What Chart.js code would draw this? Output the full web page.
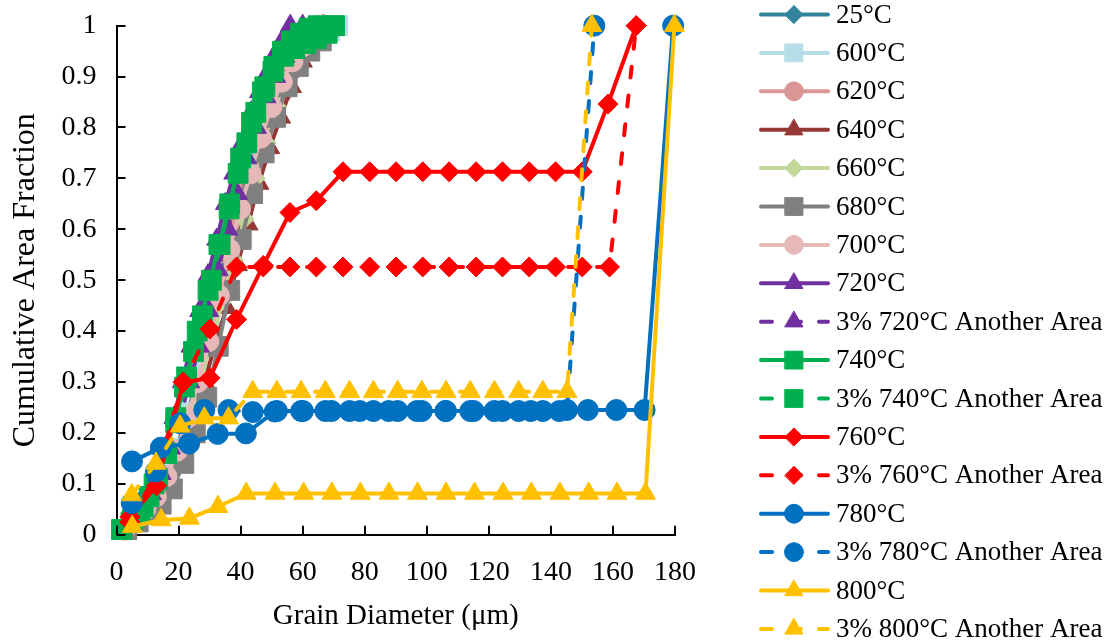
<!DOCTYPE html>
<html><head><meta charset="utf-8">
<script src="https://cdn.jsdelivr.net/npm/chart.js@4.4.0/dist/chart.umd.min.js"></script>
<style>html,body{margin:0;padding:0;background:#fff}</style>
</head><body>
<canvas id="c" width="1112" height="643"></canvas>
<script>
// ---------- DATA ----------
const seriesNames = ['25°C','600°C','620°C','640°C','660°C','680°C','700°C','720°C','3% 720°C Another Area','740°C','3% 740°C Another Area','760°C','3% 760°C Another Area','780°C','3% 780°C Another Area','800°C','3% 800°C Another Area'];
const xTickLabels = ['0','20','40','60','80','100','120','140','160','180'];
const yTickLabels = ['0','0.1','0.2','0.3','0.4','0.5','0.6','0.7','0.8','0.9','1'];

const x25  = [2.4, 5.6, 8.9, 12.2, 15.5, 18.8, 22.0, 25.3, 28.6, 31.9, 35.2, 38.4, 41.7, 45.0, 48.3, 51.6, 54.9, 58.1, 61.4, 64.1];
const y25  = [0.01, 0.03, 0.045, 0.075, 0.12, 0.16, 0.22, 0.29, 0.38, 0.46, 0.55, 0.63, 0.70, 0.77, 0.83, 0.88, 0.93, 0.96, 0.985, 1.0];
const x600 = [2.5, 5.9, 9.4, 12.9, 16.4, 19.9, 23.4, 26.9, 30.3, 33.8, 37.3, 40.8, 44.3, 47.8, 51.3, 54.8, 58.2, 61.7, 65.2, 68.7, 71.3];
const y600 = [0.01, 0.03, 0.05, 0.08, 0.12, 0.17, 0.24, 0.32, 0.40, 0.49, 0.58, 0.66, 0.73, 0.80, 0.85, 0.90, 0.935, 0.96, 0.98, 0.99, 1.0];
const x620 = [2.7, 6.0, 9.4, 12.8, 16.2, 19.6, 23.0, 26.4, 29.7, 33.1, 36.5, 39.9, 43.3, 46.7, 50.0, 53.4, 56.8, 60.2, 63.6, 67.2];
const y620 = [0.01, 0.028, 0.045, 0.07, 0.11, 0.16, 0.22, 0.29, 0.37, 0.46, 0.55, 0.62, 0.69, 0.76, 0.82, 0.87, 0.915, 0.95, 0.975, 1.0];
const x640 = [3.1, 6.8, 10.5, 14.1, 17.7, 21.5, 25.0, 28.4, 31.7, 35.5, 39.0, 42.4, 45.9, 49.4, 52.9, 56.4, 59.9, 63.4, 66.6];
const y640 = [0.01, 0.025, 0.04, 0.06, 0.094, 0.144, 0.22, 0.30, 0.373, 0.446, 0.53, 0.61, 0.69, 0.76, 0.82, 0.88, 0.93, 0.965, 1.0];
const x660 = [2.9, 6.4, 9.8, 13.3, 16.8, 20.3, 23.8, 27.3, 30.8, 34.2, 37.7, 41.2, 44.7, 48.2, 51.7, 55.2, 58.6, 62.1, 65.6];
const y660 = [0.01, 0.03, 0.05, 0.075, 0.11, 0.17, 0.24, 0.31, 0.38, 0.46, 0.54, 0.62, 0.70, 0.77, 0.84, 0.89, 0.94, 0.97, 1.0];
const x680 = [3.3, 7.0, 10.7, 14.4, 18.0, 21.7, 25.4, 29.1, 32.8, 36.5, 40.2, 43.9, 47.6, 51.3, 55.0, 58.6, 62.3, 66.0, 69.7];
const y680 = [0.01, 0.025, 0.04, 0.06, 0.09, 0.14, 0.20, 0.27, 0.37, 0.48, 0.58, 0.67, 0.75, 0.82, 0.88, 0.92, 0.95, 0.97, 1.0];
const x700 = [2.6, 5.9, 9.3, 12.7, 16.1, 19.5, 22.9, 26.2, 29.6, 33.0, 36.4, 39.8, 43.2, 46.5, 49.9, 53.3, 56.7, 60.1, 63.5, 65.6];
const y700 = [0.01, 0.03, 0.05, 0.075, 0.115, 0.165, 0.23, 0.30, 0.38, 0.47, 0.56, 0.64, 0.71, 0.78, 0.84, 0.89, 0.93, 0.96, 0.985, 1.0];
const x720 = [1.8, 4.6, 7.4, 10.2, 12.9, 15.7, 18.5, 21.2, 24.0, 26.8, 29.5, 32.3, 35.1, 37.8, 40.6, 43.4, 46.1, 48.9, 51.7, 53.8, 56.0];
const y720 = [0.01, 0.03, 0.05, 0.08, 0.12, 0.17, 0.23, 0.30, 0.37, 0.44, 0.51, 0.58, 0.65, 0.71, 0.77, 0.83, 0.87, 0.91, 0.95, 0.975, 1.0];
const x720b = [2.1, 5.1, 8.2, 11.3, 14.4, 17.4, 20.5, 23.6, 26.7, 29.7, 32.8, 35.9, 39.0, 42.0, 45.1, 48.2, 51.3, 54.3, 57.4, 60.0];
const y720b = [0.01, 0.03, 0.05, 0.08, 0.12, 0.17, 0.23, 0.30, 0.37, 0.44, 0.52, 0.60, 0.67, 0.74, 0.80, 0.86, 0.90, 0.94, 0.97, 1.0];
const x740 = [1.6, 5.1, 8.6, 12.1, 15.6, 19.1, 22.6, 26.0, 29.5, 33.0, 36.5, 40.0, 43.5, 47.0, 50.4, 53.9, 57.4, 60.9, 64.4, 67.9, 70.3];
const y740 = [0.01, 0.03, 0.055, 0.10, 0.16, 0.23, 0.31, 0.40, 0.48, 0.57, 0.65, 0.74, 0.81, 0.87, 0.91, 0.94, 0.955, 0.965, 0.975, 0.985, 1.0];
const x740b = [1.8, 4.7, 7.6, 10.5, 13.3, 16.2, 19.1, 21.9, 24.8, 27.7, 30.6, 33.4, 36.3, 39.2, 42.0, 44.9, 47.8, 50.7, 53.5, 56.4, 59.3, 62.1, 65.0];
const y740b = [0.01, 0.025, 0.045, 0.075, 0.11, 0.16, 0.22, 0.29, 0.36, 0.43, 0.50, 0.57, 0.64, 0.71, 0.77, 0.83, 0.88, 0.92, 0.95, 0.97, 0.985, 0.995, 1.0];
const x760 = [4.3, 12.9, 21.5, 30.1, 38.7, 47.3, 55.9, 64.4, 73.0, 81.6, 90.1, 98.7, 107.2, 115.9, 124.4, 133.0, 141.5, 150.1, 158.4, 167.5];
const y760 = [0.035, 0.096, 0.299, 0.308, 0.423, 0.529, 0.633, 0.656, 0.713, 0.713, 0.713, 0.713, 0.713, 0.713, 0.713, 0.713, 0.713, 0.713, 0.846, 1.0];
const x760b = [4.3, 12.9, 21.5, 30.1, 38.7, 47.3, 55.9, 64.4, 73.0, 81.6, 90.1, 98.7, 107.2, 115.9, 124.4, 133.0, 141.5, 150.1, 158.9, 167.5];
const y760b = [0.025, 0.12, 0.30, 0.404, 0.526, 0.526, 0.526, 0.526, 0.526, 0.526, 0.526, 0.526, 0.526, 0.526, 0.526, 0.526, 0.526, 0.526, 0.526, 1.0];
const x780 = [5.0, 14.3, 23.4, 32.6, 41.7, 51.0, 60.1, 69.3, 78.4, 87.7, 96.8, 106.0, 115.1, 124.4, 133.5, 142.7, 151.9, 161.1, 170.2, 179.4];
const y780 = [0.144, 0.171, 0.179, 0.198, 0.199, 0.242, 0.243, 0.243, 0.243, 0.243, 0.243, 0.243, 0.243, 0.243, 0.243, 0.243, 0.245, 0.245, 0.245, 1.0];
const x780b = [4.9, 12.7, 20.5, 28.3, 36.1, 43.9, 51.7, 59.5, 67.3, 75.1, 82.8, 90.6, 98.4, 106.2, 114.0, 121.8, 129.6, 137.4, 145.2, 154.0];
const y780b = [0.062, 0.124, 0.219, 0.245, 0.245, 0.241, 0.243, 0.243, 0.243, 0.243, 0.243, 0.243, 0.243, 0.243, 0.243, 0.243, 0.243, 0.243, 0.245, 1.0];
const x800 = [5.1, 14.4, 23.5, 32.7, 41.8, 51.1, 60.3, 69.4, 78.6, 87.8, 97.0, 106.2, 115.4, 124.6, 133.7, 142.9, 152.2, 161.3, 170.5, 179.8];
const y800 = [0.016, 0.029, 0.032, 0.055, 0.081, 0.081, 0.081, 0.081, 0.081, 0.081, 0.081, 0.081, 0.081, 0.081, 0.081, 0.081, 0.081, 0.081, 0.081, 1.0];
const x800b = [4.9, 12.7, 20.5, 28.3, 36.1, 43.9, 51.7, 59.5, 67.3, 75.1, 82.8, 90.6, 98.4, 106.2, 114.0, 121.8, 129.6, 137.4, 145.2, 153.2];
const y800b = [0.078, 0.14, 0.213, 0.229, 0.229, 0.281, 0.281, 0.281, 0.281, 0.281, 0.281, 0.281, 0.281, 0.281, 0.281, 0.281, 0.281, 0.281, 0.281, 1.0];

// ---------- STYLE ----------
const seriesX = [x25,x600,x620,x640,x660,x680,x700,x720,x720b,x740,x740b,x760,x760b,x780,x780b,x800,x800b];
const seriesY = [y25,y600,y620,y640,y660,y680,y700,y720,y720b,y740,y740b,y760,y760b,y780,y780b,y800,y800b];
const colors = ['#31849B','#B7DEE8','#DA9694','#953735','#C4D79B','#808080','#E6B9B8','#7030A0','#7030A0','#00B050','#00B050','#FF0000','#FF0000','#0070C0','#0070C0','#FFC000','#FFC000'];
const shapes = ['rectRot','rect','circle','triangle','rectRot','rect','circle','triangle','triangle','rect','rect','rectRot','rectRot','circle','circle','triangle','triangle'];
const dashed = [0,0,0,0,0,0,0,0,1,0,1,0,1,0,1,0,1];
const radiusFor = {rectRot: 10, rect: 14, circle: 10.5, triangle: 11.5};
const DASH = [11, 18];
const FONT = 'Liberation Serif';

Chart.defaults.font.family = FONT;
Chart.defaults.color = '#000';

const datasets = seriesNames.map((name, i) => ({
  label: name,
  data: seriesX[i].map((x, j) => ({x: x, y: seriesY[i][j]})),
  borderColor: colors[i],
  backgroundColor: colors[i],
  pointBackgroundColor: colors[i],
  pointBorderColor: colors[i],
  pointBorderWidth: 1,
  borderWidth: 4,
  borderCapStyle: 'round',
  borderJoinStyle: 'round',
  borderDash: dashed[i] ? DASH : [],
  pointStyle: shapes[i],
  pointRadius: radiusFor[shapes[i]],
  tension: 0,
  clip: false,
  order: 16 - i
}));

const legendPlugin = {
  id: 'sideLegend',
  afterDraw(chart) {
    const ctx = chart.ctx;
    chart.data.datasets.forEach((ds, i) => {
      const y = 14.5 + 38.4 * i;
      ctx.save();
      ctx.strokeStyle = ds.borderColor;
      ctx.lineWidth = 4;
      ctx.lineCap = 'round';
      ctx.setLineDash(ds.borderDash || []);
      ctx.beginPath(); ctx.moveTo(761, y); ctx.lineTo(828, y); ctx.stroke();
      ctx.setLineDash([]);
      ctx.fillStyle = ds.pointBackgroundColor;
      ctx.strokeStyle = ds.pointBorderColor;
      ctx.lineWidth = 1;
      Chart.helpers.drawPoint(ctx, {pointStyle: ds.pointStyle, radius: ds.pointRadius * 0.9, borderWidth: 1, rotation: 0}, 794, y);
      ctx.fillStyle = '#000';
      ctx.font = '27px "' + FONT + '"';
      ctx.textBaseline = 'middle';
      ctx.textAlign = 'left';
      ctx.fillText(ds.label, 836, y + 1);
      ctx.restore();
    });
  }
};

const innerTicks = {
  id: 'innerTicks',
  afterDraw(chart) {
    const {ctx, chartArea, scales} = chart;
    ctx.save();
    ctx.strokeStyle = '#000';
    ctx.lineWidth = 2;
    ctx.beginPath();
    scales.x.ticks.forEach(t => {
      const px = Math.round(scales.x.getPixelForValue(t.value));
      ctx.moveTo(px, chartArea.bottom); ctx.lineTo(px, chartArea.bottom - 9);
    });
    scales.y.ticks.forEach(t => {
      const py = Math.round(scales.y.getPixelForValue(t.value));
      ctx.moveTo(chartArea.left, py); ctx.lineTo(chartArea.left + 9, py);
    });
    ctx.stroke();
    ctx.restore();
  }
};

new Chart(document.getElementById('c'), {
  type: 'line',
  data: {datasets: datasets},
  options: {
    responsive: false,
    animation: false,
    events: [],
    layout: {padding: {top: 25.7, right: 437, bottom: 0, left: 0}},
    plugins: {legend: {display: false}, tooltip: {enabled: false}},
    scales: {
      x: {
        type: 'linear', min: 0, max: 180,
        ticks: {stepSize: 20, padding: 21, font: {size: 28}, color: '#000', maxRotation: 0,
          callback: (v, i) => xTickLabels[i]},
        grid: {display: false, drawTicks: false},
        border: {display: true, color: '#000', width: 2},
        title: {display: true, text: 'Grain Diameter (μm)', font: {size: 29}, color: '#000', padding: {top: 0, bottom: 9}},
        afterFit: s => { s.height = 643 - 534.7; s.paddingLeft = 0; s.paddingRight = 0; }
      },
      y: {
        type: 'linear', min: 0, max: 1,
        ticks: {stepSize: 0.1, padding: 20, font: {size: 28}, color: '#000',
          callback: (v, i) => yTickLabels[i]},
        grid: {display: false, drawTicks: false},
        border: {display: true, color: '#000', width: 2},
        title: {display: true, text: 'Cumulative Area Fraction', font: {size: 32}, color: '#000', padding: {top: 6, bottom: 0}},
        afterFit: s => { s.width = 116.5; s.paddingTop = 0; s.paddingBottom = 0; }
      }
    }
  },
  plugins: [innerTicks, legendPlugin]
});
</script>
</body></html>
